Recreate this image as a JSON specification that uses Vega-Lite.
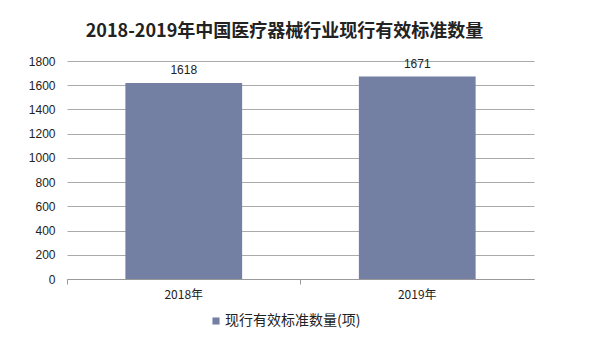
{
  "$schema": "https://vega.github.io/schema/vega-lite/v6.json",
  "autosize": {"type": "none"},
  "padding": {"left": 67, "top": 61, "right": 63, "bottom": 73},
  "width": 467,
  "height": 218,
  "background": "white",
  "title": {
    "text": "2018-2019年中国医疗器械行业现行有效标准数量",
    "font": "Noto Sans CJK SC",
    "fontSize": 18,
    "fontWeight": "bold",
    "color": "#222222",
    "anchor": "middle",
    "dx": -16,
    "offset": 14
  },
  "data": {
    "values": [
      {"year": "2018年", "value": 1618, "series": "现行有效标准数量(项)"},
      {"year": "2019年", "value": 1671, "series": "现行有效标准数量(项)"}
    ]
  },
  "config": {
    "view": {"stroke": null},
    "font": "Liberation Sans"
  },
  "encoding": {
    "x": {
      "field": "year",
      "type": "nominal",
      "scale": {"paddingInner": 0, "paddingOuter": 0},
      "axis": {
        "title": null,
        "labelAngle": 0,
        "labelFont": "Noto Sans CJK SC",
        "labelFontSize": 12,
        "labelColor": "#222222",
        "labelPadding": 5,
        "domainColor": "#999999",
        "ticks": true,
        "bandPosition": 0,
        "tickColor": "#999999",
        "tickSize": 5
      }
    },
    "y": {
      "field": "value",
      "type": "quantitative",
      "scale": {"domain": [0, 1800]},
      "axis": {
        "title": null,
        "values": [0, 200, 400, 600, 800, 1000, 1200, 1400, 1600, 1800],
        "format": "d",
        "domain": false,
        "ticks": false,
        "labelFont": "Liberation Sans",
        "labelFontSize": 12,
        "labelColor": "#222222",
        "labelPadding": 12,
        "gridColor": "#aaaaaa",
        "gridWidth": 1
      }
    }
  },
  "layer": [
    {
      "mark": {"type": "bar", "width": {"band": 0.5}, "color": "#737FA3"},
      "encoding": {
        "color": {
          "field": "series",
          "type": "nominal",
          "scale": {"range": ["#737FA3"]},
          "legend": {
            "title": null,
            "orient": "none",
            "legendX": 142,
            "legendY": 253,
            "symbolType": "square",
            "symbolSize": 50,
            "labelFont": "Noto Sans CJK SC",
            "labelFontSize": 14,
            "labelColor": "#222222",
            "labelOffset": 2
          }
        }
      }
    },
    {
      "mark": {"type": "text", "dy": -13, "fontSize": 12, "font": "Liberation Sans", "color": "#222222"},
      "encoding": {
        "text": {"field": "value", "type": "quantitative", "format": "d"}
      }
    }
  ]
}
